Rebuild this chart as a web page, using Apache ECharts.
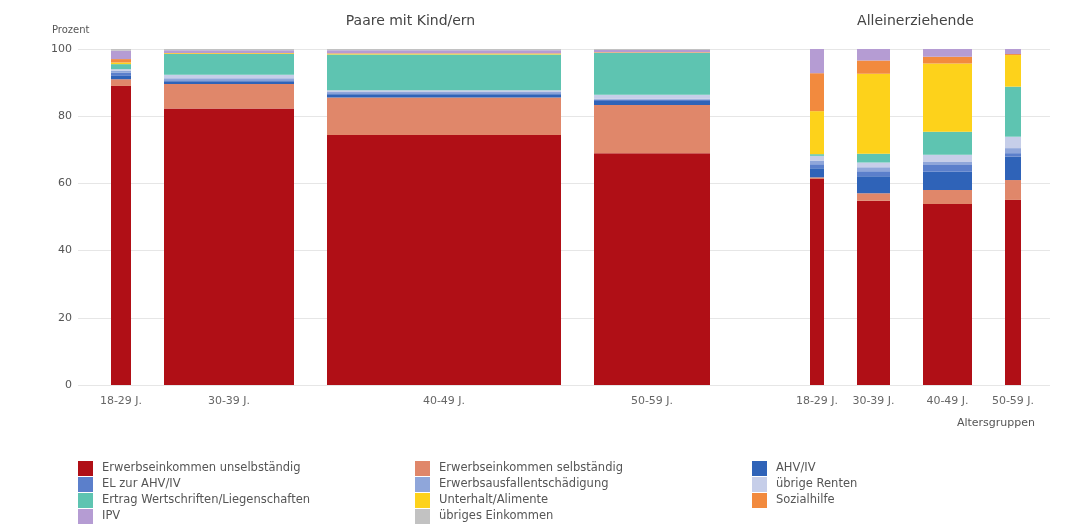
<!DOCTYPE html>
<html><head><meta charset="utf-8">
<script src="https://cdn.jsdelivr.net/npm/echarts@6/dist/echarts.min.js"></script>
<style>html,body{margin:0;padding:0;background:#fff}#c{width:1081px;height:531px}</style>
</head><body><div id="c"></div>
<script>
// ---- data ----
const groups = ['Paare mit Kind/ern', 'Alleinerziehende'];
const ageGroups = ['18-29 J.', '30-39 J.', '40-49 J.', '50-59 J.'];
// bar widths (share of households), Paare then Alleinerziehende
const widthsPaare = [4, 26, 46.8, 23.2];
const widthsAllein = [2.8, 6.6, 9.8, 3.2];
const yTicks = [0, 20, 40, 60, 80, 100];
const seriesNames = [
  'Erwerbseinkommen unselbständig', 'Erwerbseinkommen selbständig', 'AHV/IV',
  'EL zur AHV/IV', 'Erwerbsausfallentschädigung', 'übrige Renten',
  'Ertrag Wertschriften/Liegenschaften', 'Unterhalt/Alimente', 'Sozialhilfe',
  'IPV', 'übriges Einkommen'
];
// values in %, order: Paare 18-29..50-59, Allein 18-29..50-59
const erwUnselbst   = [89.0, 82.3, 74.4, 69.0, 61.3, 54.8, 53.9, 55.1];
const erwSelbst     = [2.0, 7.3, 11.2, 14.3, 0.5, 2.3, 4.1, 5.9];
const ahvIv         = [1.0, 0.8, 0.9, 1.2, 2.7, 5.0, 5.5, 7.0];
const elAhvIv       = [1.0, 0.3, 0.3, 0.4, 1.2, 1.5, 2.0, 1.0];
const erwAusfall    = [0.5, 0.6, 0.4, 0.3, 1.0, 1.2, 1.0, 1.5];
const uebrRenten    = [0.5, 1.0, 0.5, 1.2, 1.5, 1.4, 2.0, 3.4];
const ertrag        = [1.5, 6.2, 10.7, 12.4, 0.5, 2.6, 6.9, 14.9];
const unterhalt     = [0.5, 0.2, 0.2, 0.1, 12.8, 23.8, 20.3, 9.4];
const sozialhilfe   = [1.0, 0.1, 0.1, 0.1, 11.3, 4.0, 2.0, 0.3];
const ipv           = [2.5, 0.8, 0.9, 0.7, 7.2, 3.4, 2.3, 1.5];
const uebrEinkommen = [0.5, 0.4, 0.4, 0.3, 0.0, 0.0, 0.0, 0.0];

// ---- styling / layout ----
const colors = ['#b00f16', '#e0876a', '#2f63b8', '#5b7fcb', '#8fa6da', '#c6cee9',
  '#5ec4b1', '#fdd21b', '#f28a3e', '#b59cd3', '#c2c2c2'];
const valueSets = [erwUnselbst, erwSelbst, ahvIv, elAhvIv, erwAusfall, uebrRenten,
  ertrag, unterhalt, sozialhilfe, ipv, uebrEinkommen];
const GAP = 6.6, GROUP_GAP = 20;
const FONT = 'DejaVu Sans, sans-serif';

// compute x positions
const widths = widthsPaare.concat(widthsAllein);
const starts = [];
let pos = GAP;
widths.forEach((w, i) => {
  if (i === widthsPaare.length) pos += GROUP_GAP - GAP;
  starts.push(pos);
  pos += w + GAP;
});
const groupCenters = [
  (starts[0] + starts[3] + widths[3]) / 2,
  (starts[4] + starts[7] + widths[7]) / 2
];
const labels = ageGroups.concat(ageGroups);

const cum = widths.map(() => 0);
const series = valueSets.map((vals, s) => {
  const data = vals.map((v, i) => {
    const d = [starts[i], widths[i], cum[i], v];
    cum[i] += v;
    return d;
  });
  return {
    name: seriesNames[s], type: 'custom', itemStyle: { color: colors[s] },
    encode: { x: 0, y: 3 },
    renderItem: function (params, api) {
      const x0 = api.value(0), w = api.value(1), b = api.value(2), v = api.value(3);
      if (v <= 0) return null;
      const p0 = api.coord([x0, b + v]);
      const p1 = api.coord([x0 + w, b]);
      return { type: 'rect', shape: { x: p0[0], y: p0[1], width: p1[0] - p0[0], height: p1[1] - p0[1] },
        style: { fill: colors[s] } };
    },
    data: data
  };
});

series.push({
  type: 'custom', silent: true, encode: { x: 0, y: 1 },
  renderItem: function (params, api) {
    const p = api.coord([api.value(0), 0]);
    return { type: 'text', x: p[0], y: p[1] + 11,
      style: { text: labels[params.dataIndex], textAlign: 'center', textVerticalAlign: 'top',
        fill: '#666', font: '11px ' + FONT } };
  },
  data: starts.map((s, i) => [s + widths[i] / 2, 0])
});
series.push({
  type: 'custom', silent: true, encode: { x: 0, y: 1 },
  renderItem: function (params, api) {
    const p = api.coord([api.value(0), 100]);
    return { type: 'text', x: p[0], y: p[1] - 28,
      style: { text: groups[params.dataIndex], textAlign: 'center', textVerticalAlign: 'middle',
        fill: '#444', font: '14px ' + FONT } };
  },
  data: groupCenters.map(c => [c, 100])
});

const legendBase = {
  orient: 'vertical', top: 461, height: 70, padding: 0, itemWidth: 15, itemHeight: 15, itemGap: 1, icon: 'rect',
  selectedMode: false, textStyle: { color: '#555', fontSize: 11.5, fontFamily: FONT, padding: [0, 0, 0, 4] }
};
const chart = echarts.init(document.getElementById('c'), null, { renderer: 'canvas' });
chart.setOption({
  animation: false,
  grid: { left: 78, right: 31, top: 49, bottom: 146 },
  xAxis: { type: 'value', min: 0, max: 194.4, show: false },
  yAxis: {
    type: 'value', min: yTicks[0], max: yTicks[yTicks.length - 1], interval: 20,
    axisLine: { show: false }, axisTick: { show: false },
    axisLabel: { color: '#555', fontSize: 11, fontFamily: FONT, margin: 6 },
    splitLine: { lineStyle: { color: '#e6e6e6' } }
  },
  legend: [
    Object.assign({ left: 78, data: [seriesNames[0], seriesNames[3], seriesNames[6], seriesNames[9]] }, legendBase),
    Object.assign({ left: 415, data: [seriesNames[1], seriesNames[4], seriesNames[7], seriesNames[10]] }, legendBase),
    Object.assign({ left: 752, data: [seriesNames[2], seriesNames[5], seriesNames[8]] }, legendBase)
  ],
  graphic: [
    { type: 'text', left: 52, top: 25, style: { text: 'Prozent', fill: '#555', font: '10px ' + FONT } },
    { type: 'text', right: 46, top: 418, style: { text: 'Altersgruppen', fill: '#555', font: '11px ' + FONT } }
  ],
  series: series
});
</script></body></html>
